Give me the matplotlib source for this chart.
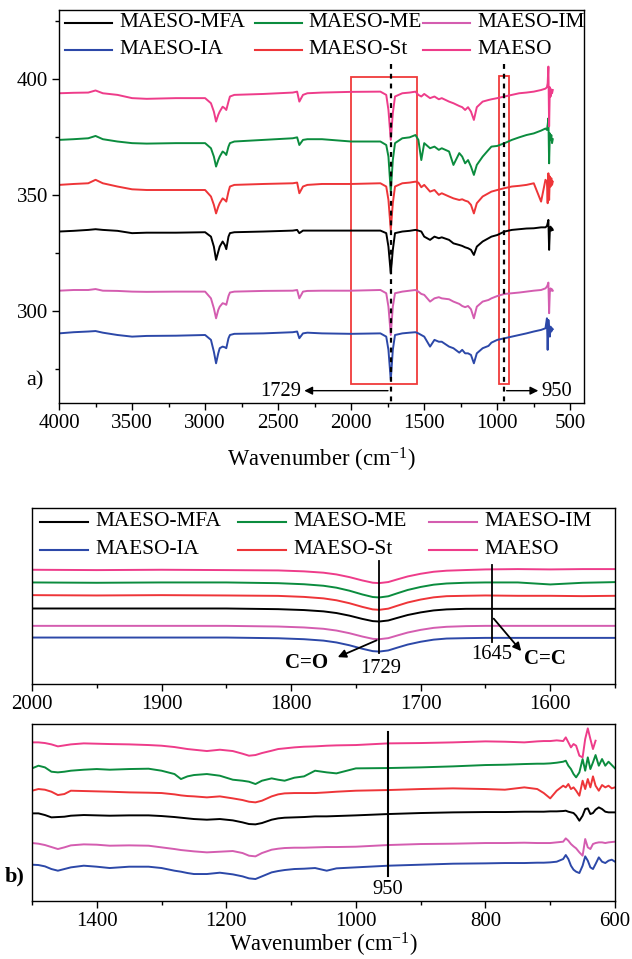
import matplotlib
matplotlib.use('Agg')
import matplotlib.pyplot as plt
from matplotlib.patches import Rectangle
from matplotlib.ticker import MultipleLocator
import numpy as np

plt.rcParams['font.family'] = ['Liberation Serif', 'DejaVu Serif']
plt.rcParams['mathtext.fontset'] = 'custom'
plt.rcParams['mathtext.rm'] = 'Liberation Serif'
plt.rcParams['mathtext.it'] = 'Liberation Serif:italic'
plt.rcParams['mathtext.bf'] = 'Liberation Serif:bold'

names = ['MAESO-MFA', 'MAESO-ME', 'MAESO-IM', 'MAESO-IA', 'MAESO-St', 'MAESO']
colors = ['#000000', '#0B8C3E', '#D45DB0', '#2C48A8', '#EE3538', '#EE3C8A']

# ---- panel a) full spectra, offset transmittance ----
wn_a = [4000, 3900, 3800, 3750, 3700, 3600, 3500, 3400, 3200, 3000, 2960, 2940, 2925, 2910,
        2900, 2880, 2865, 2855, 2840, 2830, 2800, 2600, 2400, 2370, 2355, 2330, 2300, 2200,
        2000, 1800, 1760, 1745, 1729, 1715, 1700, 1650, 1600, 1560, 1540, 1520, 1500, 1460,
        1430, 1400, 1380, 1330, 1300, 1260, 1240, 1220, 1200, 1180, 1160, 1140, 1100, 1060,
        1040, 1000, 950, 900, 850, 800, 750, 700, 670, 660, 655, 650, 645, 640, 635, 630,
        625, 620]
a_mfa = [334.2, 334.5, 334.9, 335.2, 334.9, 334.5, 333.5, 333.7, 333.7, 333.9, 332.0, 327.7,
         322.0, 325.5, 327.7, 329.9, 328.4, 326.6, 332.0, 333.5, 333.9, 334.2, 334.6, 334.9,
         333.5, 334.6, 334.6, 334.6, 334.6, 334.6, 333.5, 327.7, 316.2, 326.3, 333.5, 334.2,
         334.5, 334.9, 334.6, 334.2, 332.0, 330.6, 332.0, 331.3, 331.7, 330.6, 329.1, 328.4,
         328.0, 327.4, 327.0, 326.3, 324.1, 327.7, 329.9, 331.3, 332.0, 332.7, 334.2, 334.9,
         335.2, 335.5, 335.6, 336.0, 336.0, 336.6, 337.8, 339.2, 326.3, 334.9, 336.3, 334.6,
         335.6, 334.9]
a_me = [373.7, 374.0, 374.4, 375.4, 374.0, 373.0, 372.3, 372.1, 372.3, 372.3, 370.1, 366.5,
        362.2, 365.0, 366.5, 368.7, 368.0, 367.2, 370.8, 372.3, 373.0, 373.7, 374.4, 374.8,
        371.5, 373.7, 374.0, 374.0, 373.0, 373.0, 371.5, 366.5, 351.4, 365.0, 372.3, 374.4,
        374.8, 375.8, 373.7, 365.0, 372.3, 370.1, 370.8, 369.4, 370.1, 368.7, 362.9, 368.0,
        366.5, 363.6, 365.0, 362.2, 358.6, 362.9, 366.5, 369.4, 370.8, 371.1, 372.3, 373.7,
        374.8, 375.8, 376.5, 377.7, 378.6, 378.0, 380.2, 383.0, 363.6, 376.5, 373.7, 375.8,
        372.3, 374.0]
a_im = [308.7, 309.0, 309.0, 309.4, 308.7, 308.6, 308.3, 308.2, 308.3, 308.3, 305.4, 301.1,
        296.8, 300.4, 301.8, 303.3, 303.0, 302.6, 306.4, 307.9, 308.3, 308.6, 308.7, 309.0,
        305.4, 308.3, 308.6, 308.7, 308.7, 309.0, 307.6, 301.8, 289.6, 301.8, 307.6, 308.3,
        308.7, 309.0, 308.3, 307.3, 306.9, 304.0, 305.4, 305.9, 305.4, 305.0, 304.0, 303.0,
        302.1, 301.6, 302.1, 300.7, 296.8, 301.8, 304.0, 304.7, 305.4, 306.4, 307.3, 307.6,
        307.9, 308.3, 308.7, 309.0, 309.7, 310.5, 311.2, 312.2, 299.0, 308.3, 309.7, 308.7,
        309.3, 308.7]
a_ia = [290.3, 290.8, 291.1, 291.3, 290.6, 289.6, 288.9, 289.2, 289.3, 289.6, 287.5, 282.4,
        277.4, 281.7, 283.9, 284.6, 284.3, 283.9, 288.2, 289.6, 290.1, 290.3, 290.8, 291.1,
        288.2, 290.3, 290.6, 290.3, 290.1, 290.3, 288.9, 283.2, 270.2, 283.2, 289.6, 290.3,
        290.6, 290.8, 290.3, 289.6, 288.9, 284.6, 287.5, 286.7, 286.7, 284.6, 283.9, 282.0,
        283.2, 281.7, 281.7, 281.0, 277.4, 281.7, 283.9, 284.9, 286.3, 287.5, 288.2, 288.9,
        289.6, 290.3, 291.1, 291.8, 292.5, 296.8, 283.2, 296.1, 291.8, 288.9, 293.2, 291.1,
        292.5, 292.1]
a_st = [354.3, 354.7, 355.0, 356.5, 355.0, 353.6, 352.4, 352.1, 352.1, 352.1, 349.3, 345.7,
        342.0, 344.9, 346.4, 348.5, 347.8, 347.1, 351.4, 353.6, 354.3, 354.7, 355.0, 355.3,
        350.7, 353.6, 354.3, 354.7, 354.7, 355.0, 353.6, 347.8, 334.9, 346.4, 353.6, 355.0,
        355.3, 355.7, 355.3, 353.3, 354.3, 351.4, 352.1, 350.0, 350.7, 349.3, 348.5, 347.8,
        348.1, 347.5, 347.1, 345.7, 342.0, 346.4, 349.3, 350.7, 351.4, 352.1, 352.9, 353.6,
        353.9, 354.3, 355.0, 347.1, 356.5, 355.7, 346.4, 359.3, 347.8, 357.9, 353.6, 357.2,
        354.3, 355.7]
a_maeso = [393.8, 394.0, 394.1, 395.0, 393.8, 393.1, 391.7, 391.4, 391.7, 391.7, 389.5, 385.9,
           381.6, 384.5, 385.9, 388.0, 387.3, 386.6, 390.2, 392.4, 393.1, 393.5, 394.1, 394.5,
           390.2, 393.1, 393.8, 394.1, 394.4, 394.5, 393.1, 386.6, 373.7, 385.2, 392.4, 393.8,
           394.1, 394.5, 393.1, 392.4, 393.5, 391.7, 392.4, 391.2, 391.7, 390.2, 389.5, 388.3,
           387.8, 386.6, 387.8, 385.9, 382.3, 387.8, 390.2, 390.9, 391.2, 391.7, 392.4, 393.1,
           393.8, 394.1, 394.5, 395.2, 395.8, 396.4, 398.1, 405.3, 379.5, 396.4, 392.4, 395.5,
           393.8, 395.2]

# ---- panel C=O / C=C zoom (arbitrary units) ----
wn_c = [2000, 1950, 1900, 1850, 1810, 1790, 1775, 1765, 1755, 1745, 1737, 1732, 1725, 1718,
        1710, 1700, 1690, 1680, 1665, 1650, 1625, 1600, 1575, 1550]
c_mfa = [226, 226, 226, 226, 224, 221.3, 217.4, 212.4, 204.6, 194.8, 188.2, 187, 190.1, 197.9,
         206.5, 214.3, 220.2, 223.3, 225, 225, 225, 225, 225, 225]
c_me = [304, 303, 304, 304, 301.8, 298.6, 294.1, 288.3, 279.3, 268, 260.4, 259, 262.6, 271.6,
        281.5, 290.5, 297.3, 300.9, 303.1, 304, 304, 298, 303, 305]
c_im = [174, 174, 174, 174, 172, 169.2, 165.2, 160, 152, 142, 135.2, 134, 137.2, 145.2, 154,
        162, 168, 171.2, 173.2, 174, 174, 174, 174, 174]
c_ia = [139, 139, 139, 139, 136.9, 134, 129.8, 124.3, 115.9, 105.4, 98.3, 97, 100.4, 108.8,
        118, 126.4, 132.7, 136, 137.2, 138, 138, 138, 138, 138]
c_st = [266, 265, 266, 265, 263.8, 260.7, 256.3, 250.6, 241.8, 230.8, 223.3, 222, 225.5, 234.3,
        244, 252.8, 259.4, 262.9, 264.1, 265, 264, 264, 263, 264]
c_maeso = [342, 341, 342, 341, 340, 337.2, 333.2, 328, 320, 310, 303.2, 302, 305.2, 313.2, 322,
           330, 336, 339.2, 341.2, 343, 344, 343, 344, 344]

# ---- panel b) fingerprint zoom (arbitrary units) ----
wn_b = [1500, 1490, 1480, 1470, 1460, 1450, 1440, 1420, 1400, 1380, 1350, 1320, 1300, 1280,
        1270, 1260, 1250, 1230, 1210, 1190, 1175, 1165, 1155, 1145, 1130, 1120, 1110, 1095,
        1080, 1063, 1045, 1030, 1000, 950, 900, 850, 800, 770, 740, 720, 710, 700, 690, 680,
        676, 672, 668, 664, 660, 655, 650, 646, 642, 638, 634, 630, 625, 620, 615, 610, 605,
        600]
b_mfa = [262, 262, 257, 250, 251, 252, 255, 257, 256, 255, 256, 256, 254, 251, 249, 247, 245,
         243, 245, 241, 235, 230, 229, 233, 243, 247, 249, 250, 251, 253, 253, 254, 256, 260,
         263, 265, 266, 266, 267, 267, 267, 268, 268, 269, 270, 267, 265, 263, 255, 240, 255,
         275, 277, 260, 263, 273, 280, 275, 267, 265, 265, 265]
b_me = [397, 405, 400, 387, 385, 387, 390, 393, 395, 393, 395, 396, 390, 380, 365, 373, 377,
        380, 375, 363, 360, 357, 350, 360, 367, 363, 360, 369, 373, 390, 385, 382, 397, 398,
        400, 403, 407, 408, 410, 411, 411, 412, 414, 417, 420, 405, 395, 380, 370, 385, 425,
        390, 430, 395, 415, 437, 405, 425, 405, 417, 407, 397]
b_im = [173, 171, 167, 161, 155, 160, 166, 169, 168, 165, 166, 165, 160, 155, 152, 150, 148,
        145, 147, 149, 143, 135, 133, 143, 153, 156, 158, 159, 159, 160, 161, 161, 162, 167,
        170, 171, 173, 173, 174, 173, 173, 173, 175, 177, 187, 180, 170, 163, 157, 145, 135,
        185, 160, 155, 170, 173, 175, 175, 173, 175, 176, 177]
b_ia = [108, 107, 103, 95, 90, 95, 100, 105, 102, 98, 102, 102, 98, 90, 87, 83, 80, 80, 84, 79,
        73, 67, 65, 73, 85, 89, 92, 95, 96, 98, 90, 97, 100, 105, 108, 111, 112, 113, 113, 114,
        114, 115, 117, 125, 137, 125, 105, 93, 87, 83, 105, 133, 120, 100, 95, 110, 130, 117,
        113, 120, 123, 117]
b_st = [330, 335, 333, 327, 317, 320, 330, 329, 328, 327, 325, 324, 323, 319, 316, 314, 313,
        310, 313, 307, 302, 297, 295, 300, 313, 319, 322, 323, 323, 323, 325, 327, 330, 332,
        335, 337, 335, 333, 340, 335, 323, 307, 330, 345, 340, 350, 335, 340, 330, 315, 360,
        335, 365, 340, 373, 345, 330, 347, 340, 345, 337, 340]
b_maeso = [475, 475, 473, 469, 463, 466, 469, 472, 471, 470, 469, 467, 465, 461, 458, 455, 453,
           449, 453, 449, 441, 435, 437, 443, 450, 455, 457, 460, 462, 463, 465, 466, 467, 472,
           473, 475, 478, 477, 475, 478, 479, 479, 481, 479, 490, 475, 460, 470, 465, 435, 430,
           485, 517, 485, 455, 480, None, None, None, None, None, None]

series_a = [a_mfa, a_me, a_im, a_ia, a_st, a_maeso]
series_c = [c_mfa, c_me, c_im, c_ia, c_st, c_maeso]
series_b = [b_mfa, b_me, b_im, b_ia, b_st, b_maeso]

# font sizes (pt), matched to the text widths in the original
leg_fs = 15.3
tick_fs = 15.0
lab_fs = 16.3
num_fs = 14.8
bold_fs = 15.0
tag_fs = 16.0

fig = plt.figure(figsize=(6.32, 9.59), dpi=100)
ax1 = fig.add_axes([0.0934, 0.5798, 0.8307, 0.4098])
ax2 = fig.add_axes([0.0506, 0.2868, 0.9225, 0.1835])
ax3 = fig.add_axes([0.0506, 0.0608, 0.9225, 0.1842])


def style(ax):
    for s in ax.spines.values():
        s.set_linewidth(1.0)
    ax.tick_params(which='major', direction='out', length=5, width=1.0, labelsize=tick_fs, pad=3)
    ax.tick_params(which='minor', direction='out', length=3, width=1.0)


def legend_rows(ax, xh, xt, ys, hl):
    for i, (name, col) in enumerate(zip(names, colors)):
        r, c = divmod(i, 3)
        ax.plot([xh[c], xh[c] + hl], [ys[r], ys[r]], color=col, lw=1.5,
                transform=ax.transAxes, clip_on=False)
        ax.text(xt[c], ys[r], name, transform=ax.transAxes, va='center', ha='left',
                fontsize=leg_fs)


# panel a
for y, col in zip(series_a, colors):
    ax1.plot(wn_a, y, color=col, lw=1.4)
ax1.set_xlim(4000, 406)
ax1.set_ylim(260.3, 429.7)
ax1.xaxis.set_major_locator(MultipleLocator(500))
ax1.xaxis.set_minor_locator(MultipleLocator(250))
ax1.yaxis.set_major_locator(MultipleLocator(50))
ax1.yaxis.set_minor_locator(MultipleLocator(25))
style(ax1)
ax1.add_patch(Rectangle((1550, 268.6), 450, 132.1, fill=False, ec='#F03A3A', lw=1.3))
ax1.add_patch(Rectangle((920, 268.3), 66, 132.8, fill=False, ec='#F03A3A', lw=1.3))
ax1.plot([1729, 1729], [406.2, 260.3], color='k', lw=1.6, ls=(0, (2.2, 2.2)))
ax1.plot([955, 955], [406.2, 260.3], color='k', lw=1.6, ls=(0, (2.2, 2.2)))
ax1.annotate('', xy=(2340, 265.6), xytext=(1729, 265.6),
             arrowprops=dict(arrowstyle='-|>', color='k', lw=1.0, mutation_scale=12))
ax1.annotate('', xy=(700, 265.6), xytext=(955, 265.6),
             arrowprops=dict(arrowstyle='-|>', color='k', lw=1.0, mutation_scale=12))
ax1.text(2345, 265.3, '1729', ha='right', va='center', fontsize=num_fs)
ax1.text(697, 265.3, '950', ha='left', va='center', fontsize=num_fs)
legend_rows(ax1, [0.0114, 0.3733, 0.6933], [0.1143, 0.4743, 0.7962], [0.9677, 0.8982], 0.0895)
fig.text(0.0554, 0.6027, 'a)', ha='center', va='center', fontsize=tag_fs)
fig.text(0.5087, 0.5203, 'Wavenumber (cm$^{-1}$)', ha='center', va='center', fontsize=lab_fs)

# panel C=O / C=C
for y, col in zip(series_c, colors):
    ax2.plot(wn_c, y, color=col, lw=1.4)
ax2.set_xlim(2000, 1550)
ax2.set_ylim(0, 527)
ax2.xaxis.set_major_locator(MultipleLocator(100))
ax2.xaxis.set_minor_locator(MultipleLocator(50))
ax2.set_yticks([])
style(ax2)
ax2.plot([1732, 1732], [367, 92], color='k', lw=1.3)
ax2.plot([1645, 1645], [357, 127], color='k', lw=1.3)
ax2.annotate('', xy=(1766, 77), xytext=(1732, 134),
             arrowprops=dict(arrowstyle='-|>', color='k', lw=1.3, mutation_scale=12))
ax2.annotate('', xy=(1621, 92), xytext=(1645, 202),
             arrowprops=dict(arrowstyle='-|>', color='k', lw=1.3, mutation_scale=12))
ax2.text(1731, 45, '1729', ha='center', va='center', fontsize=num_fs)
ax2.text(1645, 87, '1645', ha='center', va='center', fontsize=num_fs)
ax2.text(1788, 64, 'C=O', ha='center', va='center', fontsize=bold_fs, fontweight='bold')
ax2.text(1604, 75, 'C=C', ha='center', va='center', fontsize=bold_fs, fontweight='bold')
legend_rows(ax2, [0.0137, 0.3533, 0.6809], [0.1081, 0.4477, 0.7753], [0.9222, 0.7614], 0.0823)

# panel b
for y, col in zip(series_b, colors):
    yv = np.array([np.nan if v is None else v for v in y], dtype=float)
    ax3.plot(wn_b, yv, color=col, lw=1.4)
ax3.set_xlim(1500, 600)
ax3.set_ylim(0, 530)
ax3.xaxis.set_major_locator(MultipleLocator(200))
ax3.xaxis.set_minor_locator(MultipleLocator(100))
ax3.set_yticks([])
style(ax3)
ax3.plot([951, 951], [505, 75], color='k', lw=1.5)
ax3.text(951, 35, '950', ha='center', va='center', fontsize=num_fs)
fig.text(0.0237, 0.0865, 'b)', ha='center', va='center', fontsize=tag_fs, fontweight='bold')
fig.text(0.5111, 0.0150, 'Wavenumber (cm$^{-1}$)', ha='center', va='center', fontsize=lab_fs)

fig.savefig('out.png', dpi=100)
